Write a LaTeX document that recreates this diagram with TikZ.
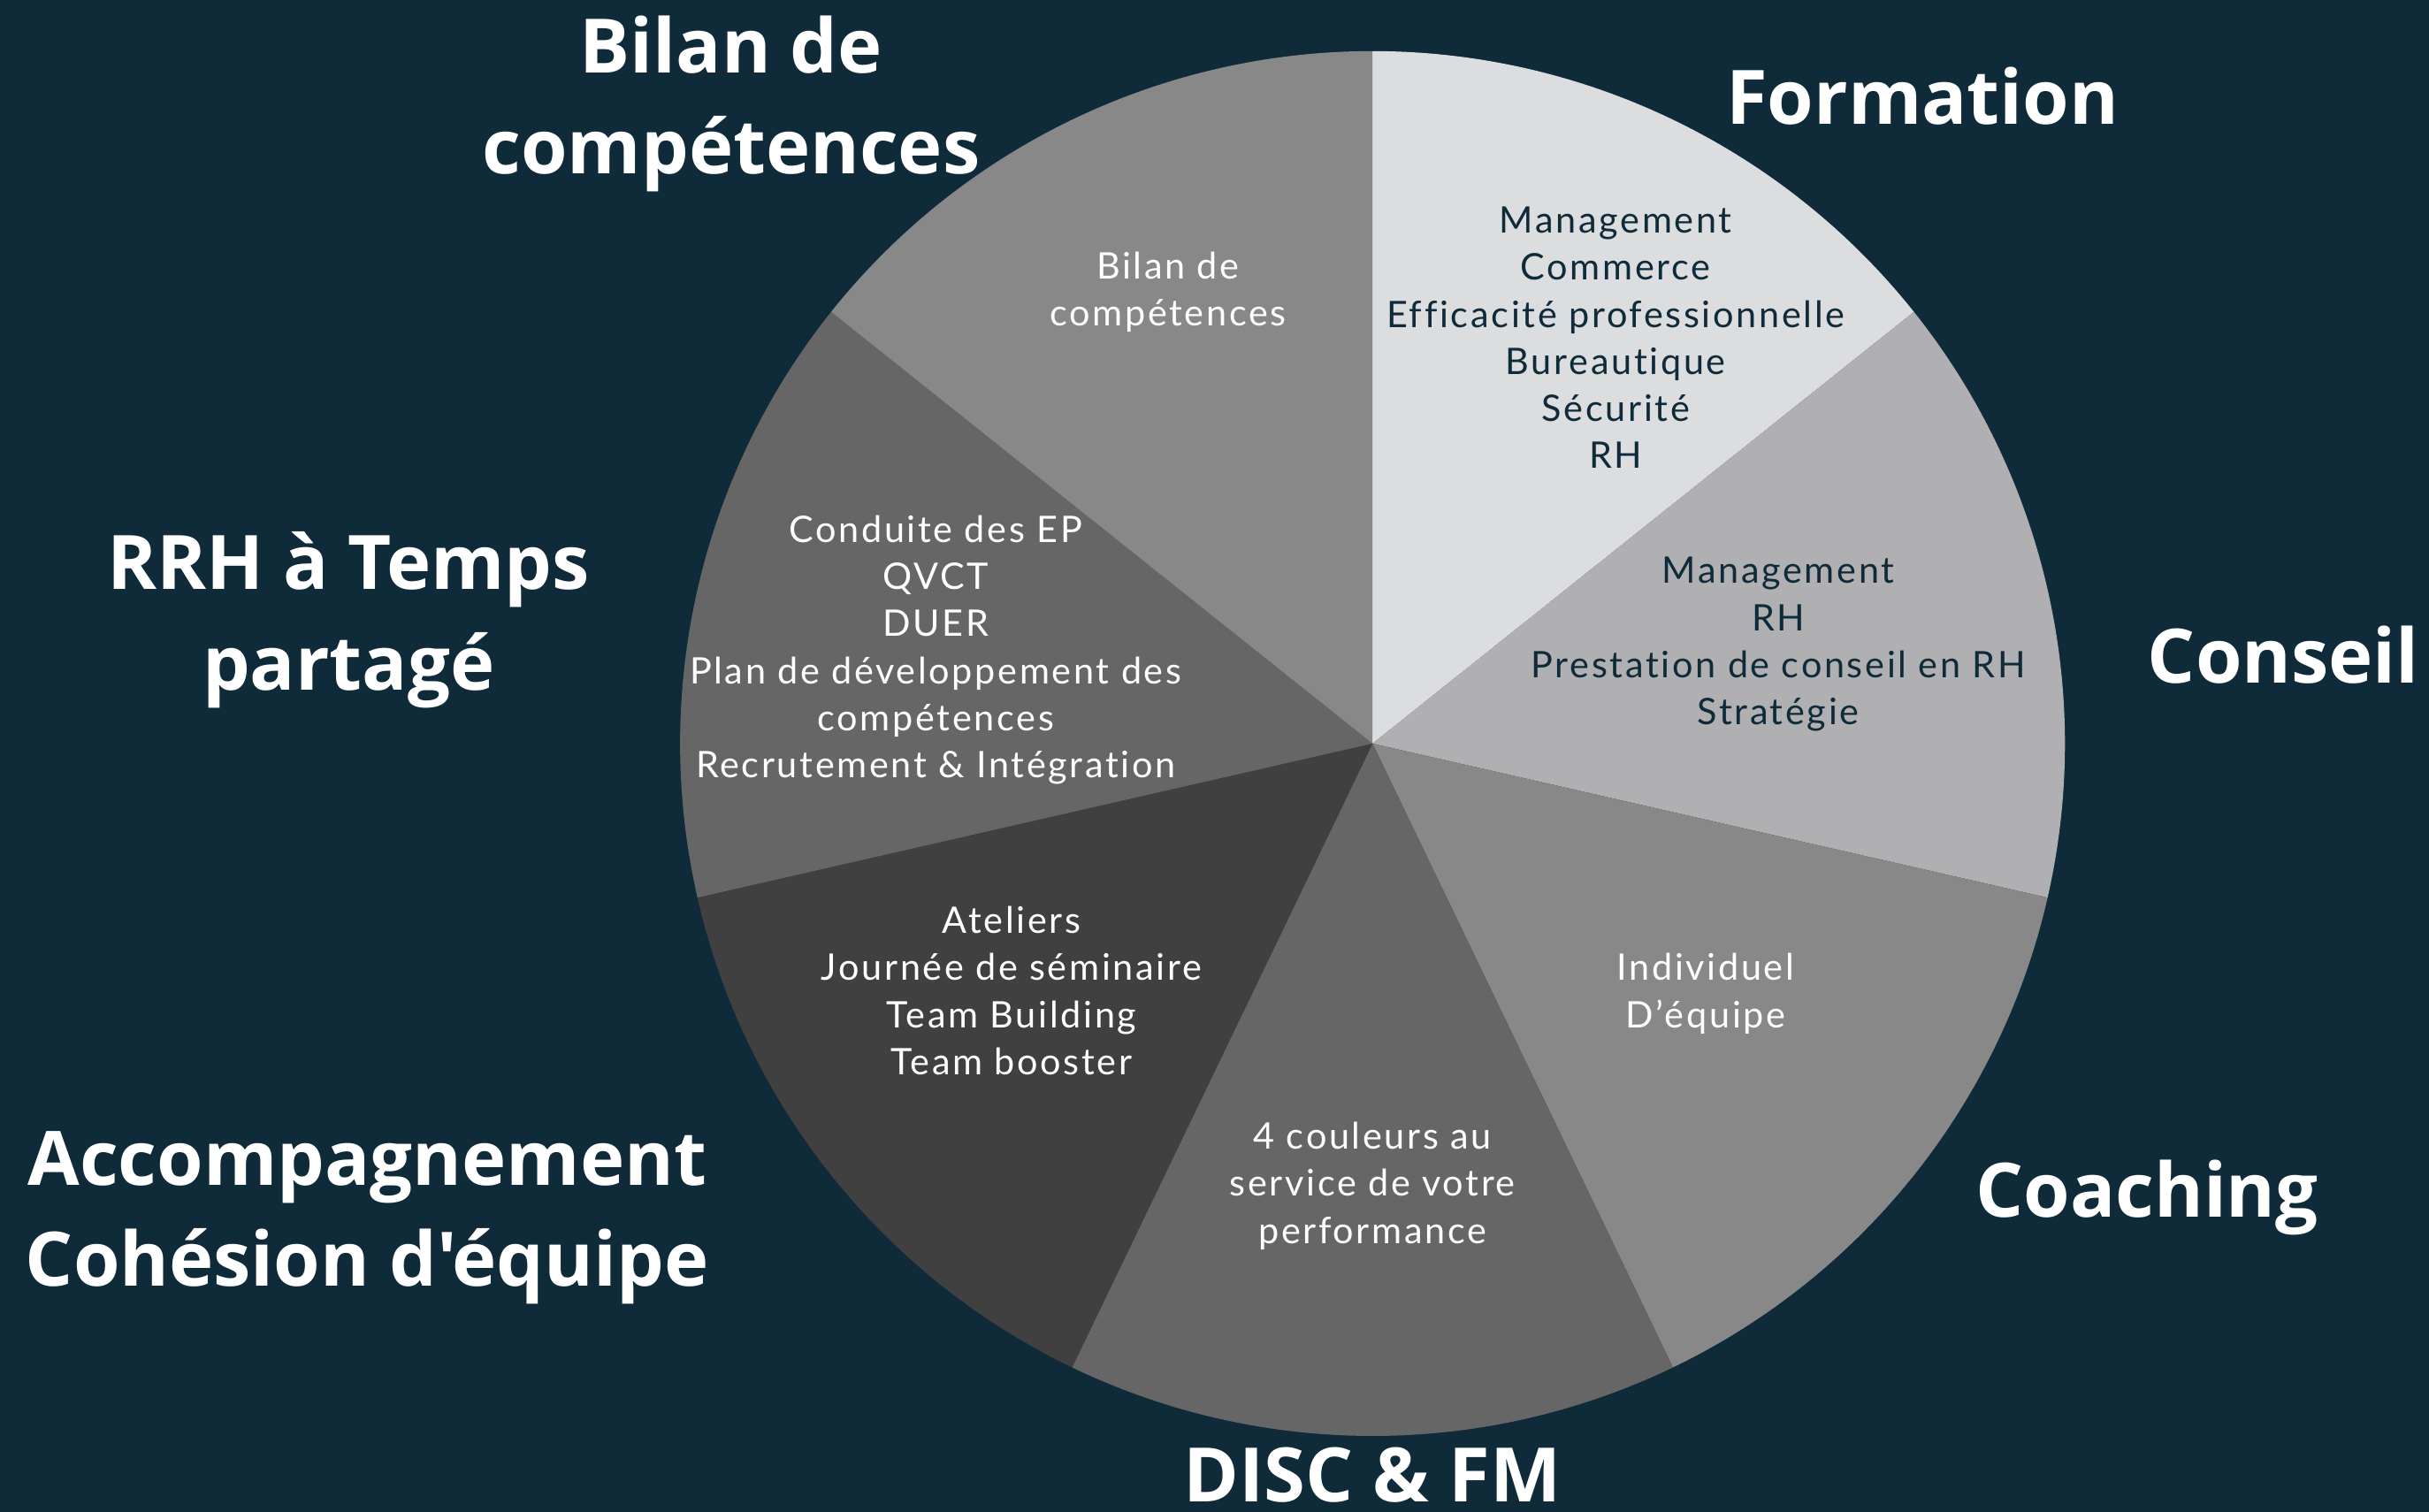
\documentclass[tikz,border=0pt]{standalone}
\usepackage{fontspec}
\setmainfont{Lato}[Ligatures={NoCommon}, LetterSpace=6.5]
\newfontfamily\headfont{Open Sans}
\usepackage{tikz}
\usetikzlibrary{positioning}

\definecolor{bgnavy}{HTML}{0F2A38}
\definecolor{formfill}{HTML}{DCDDDF}
\definecolor{consfill}{HTML}{B0B0B2}
\definecolor{coachfill}{HTML}{888889}
\definecolor{discfill}{HTML}{666667}
\definecolor{accfill}{HTML}{404040}
\definecolor{rrhfill}{HTML}{666667}
\definecolor{bilanfill}{HTML}{888889}

\tikzset{
  headlbl/.style={text=white, font=\headfont\bfseries\fontsize{48.5}{65}\selectfont, align=center, inner sep=0.75pt},
  itemlbl/.style={text=white, font=\fontsize{23.6}{30.4}\selectfont, align=center, inner sep=0.75pt},
  darklbl/.style={itemlbl, text=bgnavy}
}

\begin{document}
\begin{tikzpicture}[x=1pt,y=1pt,yscale=-1,xscale=1]
\useasboundingbox (0,0) rectangle (1568,976);
%Shape: Background
\fill [bgnavy] (0,0) rectangle (1568,976);

\coordinate (ctr) at (886,480);

%Shape: Sectors, clockwise from the top
\foreach \col [count=\i from 0] in {formfill,consfill,coachfill,discfill,accfill,rrhfill,bilanfill}{
  \pgfmathsetmacro{\sa}{-90+\i*360/7}
  \pgfmathsetmacro{\ea}{-90+(\i+1)*360/7}
  \fill [\col] (ctr) -- ++(\sa:447) arc [start angle=\sa, end angle=\ea, radius=447] -- cycle;
}

% Text Node
\node [darklbl] (formitems) at (1043,218) {Management\\Commerce\\Efficacité professionnelle\\Bureautique\\Sécurité\\RH};
% Text Node
\node [darklbl] (consitems) at (1148,416) {Management\\RH\\Prestation de conseil en RH\\Stratégie};
% Text Node
\node [itemlbl] (coachitems) at (1101,641.5) {Individuel\\D’équipe};
% Text Node
\node [itemlbl] (discitems) at (886,765.5) {4 couleurs au\\service de votre\\performance};
% Text Node
\node [itemlbl] (accitems) at (653,639.5) {Ateliers\\Journée de séminaire\\Team Building\\Team booster};
% Text Node
\node [itemlbl] (rrhitems) at (604,419.5) {Conduite des EP\\QVCT\\DUER\\Plan de développement des\\compétences\\Recrutement \& Intégration};
% Text Node
\node [itemlbl] (bilanitems) at (754,188.5) {Bilan de\\compétences};

% Text Node
\node [headlbl] (formation) at (1241,62) {Formation};
% Text Node
\node [headlbl] (conseil) at (1474,423) {Conseil};
% Text Node
\node [headlbl] (coaching) at (1386,773) {Coaching};
% Text Node
\node [headlbl] (disc) at (886,952) {DISC \& FM};
% Text Node
\node [headlbl] (accomp) at (237,786) {Accompagnement\\Cohésion d'équipe};
% Text Node
\node [headlbl] (rrh) at (225,400) {RRH à Temps\\partagé};
% Text Node
\node [headlbl] (bilan) at (472,67) {Bilan de\\compétences};

\end{tikzpicture}
\end{document}
